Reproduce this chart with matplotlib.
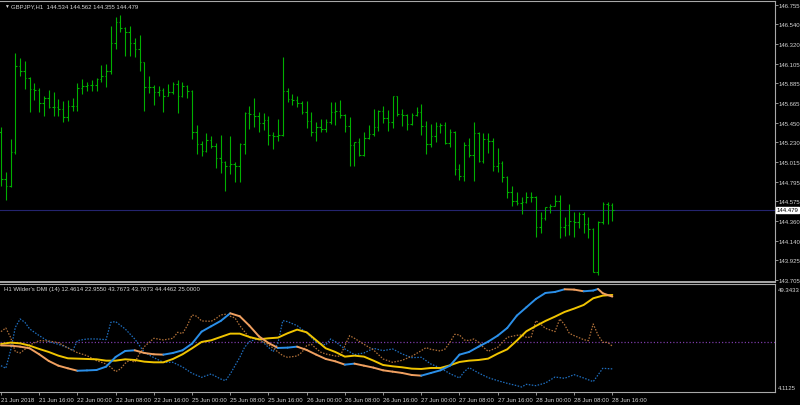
import matplotlib
matplotlib.use('Agg')
import matplotlib.pyplot as plt
from matplotlib.collections import LineCollection
import numpy as np

plt.rcParams['font.family'] = ['Liberation Sans Narrow', 'Liberation Sans', 'DejaVu Sans']
FS = 4.3

# GBPJPY H1 bars, 21 Jun 08:00 .. 28 Jun 16:00
opens = [145.350, 144.823, 144.742, 145.120, 146.082, 146.026, 145.945, 145.823, 145.815, 145.667,
         145.727, 145.619, 145.619, 145.601, 145.508, 145.630, 145.630, 145.830, 145.852, 145.867,
         145.867, 145.934, 145.971, 146.026, 146.330, 146.570, 146.496, 146.452, 146.330, 146.267,
         146.119, 145.841, 145.841, 145.786, 145.815, 145.749, 145.786, 145.878, 145.749, 145.852,
         145.804, 145.349, 145.212, 145.138, 145.260, 145.194, 145.053, 145.009, 144.972, 144.990,
         144.972, 145.212, 145.556, 145.545, 145.527, 145.450, 145.478, 145.312, 145.304, 145.312,
         145.804, 145.711, 145.704, 145.667, 145.571, 145.463, 145.349, 145.397, 145.378, 145.452,
         145.571, 145.582, 145.534, 145.408, 145.201, 145.230, 145.093, 145.278, 145.323, 145.397,
         145.582, 145.497, 145.452, 145.741, 145.545, 145.534, 145.434, 145.534, 145.563, 145.408,
         145.212, 145.297, 145.408, 145.423, 145.223, 145.349, 144.934, 144.853, 145.201, 145.090,
         145.334, 145.020, 145.267, 145.249, 144.964, 145.001, 144.842, 144.675, 144.582, 144.557,
         144.564, 144.619, 144.619, 144.286, 144.386, 144.508, 144.527, 144.582, 144.286, 144.312,
         144.360, 144.349, 144.434, 144.323, 144.268, 143.794, 144.349, 144.545, 144.534]
highs = [145.397, 144.905, 145.268, 146.222, 146.163, 146.134, 145.952, 145.886, 145.830, 145.741,
         145.815, 145.786, 145.712, 145.686, 145.704, 145.719, 145.889, 145.934, 145.904, 145.919,
         145.941, 146.089, 146.100, 146.519, 146.618, 146.644, 146.515, 146.526, 146.385, 146.422,
         146.126, 145.963, 145.867, 145.860, 145.830, 145.878, 145.897, 145.923, 145.897, 145.870,
         145.810, 145.423, 145.249, 145.330, 145.297, 145.223, 145.312, 145.027, 145.305, 145.009,
         145.223, 145.564, 145.630, 145.719, 145.564, 145.556, 145.519, 145.341, 145.489, 146.174,
         145.830, 145.767, 145.741, 145.689, 145.689, 145.571, 145.452, 145.489, 145.489, 145.674,
         145.682, 145.700, 145.541, 145.508, 145.238, 145.275, 145.349, 145.426, 145.600, 145.593,
         145.630, 145.593, 145.748, 145.745, 145.600, 145.545, 145.556, 145.619, 145.656, 145.463,
         145.434, 145.460, 145.445, 145.452, 145.378, 145.360, 144.990, 145.230, 145.275, 145.460,
         145.340, 145.334, 145.334, 145.274, 145.164, 145.027, 144.853, 144.742, 144.682, 144.619,
         144.675, 144.675, 144.631, 144.453, 144.508, 144.545, 144.645, 144.645, 144.397, 144.545,
         144.460, 144.460, 144.453, 144.397, 144.275, 144.360, 144.571, 144.571, 144.562]
lows = [144.749, 144.590, 144.735, 145.101, 145.971, 145.823, 145.564, 145.704, 145.564, 145.527,
        145.616, 145.527, 145.527, 145.453, 145.467, 145.582, 145.582, 145.767, 145.804, 145.804,
        145.804, 145.897, 145.849, 145.989, 146.267, 146.452, 146.193, 146.193, 146.174, 146.026,
        145.582, 145.778, 145.645, 145.749, 145.571, 145.741, 145.767, 145.556, 145.730, 145.719,
        145.268, 145.101, 145.083, 145.120, 145.164, 144.942, 144.886, 144.694, 144.879, 144.786,
        144.794, 145.101, 145.379, 145.397, 145.349, 145.371, 145.201, 145.156, 145.249, 145.304,
        145.674, 145.648, 145.619, 145.545, 145.386, 145.304, 145.241, 145.341, 145.341, 145.434,
        145.426, 145.497, 145.341, 144.971, 144.971, 145.075, 145.075, 145.270, 145.304, 145.360,
        145.445, 145.360, 145.386, 145.519, 145.408, 145.371, 145.425, 145.526, 145.312, 145.101,
        145.175, 145.238, 145.334, 145.212, 145.175, 144.867, 144.816, 144.805, 145.064, 144.805,
        145.008, 145.001, 145.112, 144.916, 144.904, 144.793, 144.608, 144.520, 144.534, 144.434,
        144.557, 144.564, 144.175, 144.223, 144.371, 144.445, 144.520, 144.164, 144.194, 144.201,
        144.175, 144.275, 144.223, 144.164, 143.787, 143.757, 144.323, 144.323, 144.355]
closes = [144.823, 144.742, 145.120, 146.082, 146.026, 145.945, 145.823, 145.815, 145.667, 145.727,
          145.619, 145.619, 145.601, 145.508, 145.630, 145.630, 145.830, 145.852, 145.867, 145.867,
          145.934, 145.971, 146.026, 146.330, 146.570, 146.496, 146.452, 146.330, 146.267, 146.119,
          145.841, 145.841, 145.786, 145.815, 145.749, 145.786, 145.878, 145.749, 145.852, 145.804,
          145.349, 145.212, 145.138, 145.260, 145.194, 145.053, 145.009, 144.972, 144.990, 144.972,
          145.212, 145.556, 145.545, 145.527, 145.450, 145.478, 145.312, 145.304, 145.312, 145.804,
          145.711, 145.704, 145.667, 145.571, 145.463, 145.349, 145.397, 145.378, 145.452, 145.571,
          145.582, 145.534, 145.408, 145.201, 145.230, 145.093, 145.278, 145.323, 145.397, 145.582,
          145.497, 145.452, 145.741, 145.545, 145.534, 145.434, 145.534, 145.563, 145.408, 145.212,
          145.297, 145.408, 145.423, 145.223, 145.349, 144.934, 144.853, 145.201, 145.090, 145.334,
          145.020, 145.267, 145.249, 144.964, 145.001, 144.842, 144.675, 144.582, 144.557, 144.564,
          144.619, 144.619, 144.286, 144.386, 144.508, 144.527, 144.582, 144.286, 144.312, 144.360,
          144.349, 144.434, 144.323, 144.268, 143.794, 144.349, 144.545, 144.534, 144.479]
last_price = 144.479

price_ticks = [146.755, 146.540, 146.320, 146.105, 145.885, 145.665, 145.450, 145.230,
               145.015, 144.795, 144.575, 144.360, 144.140, 143.925, 143.705]

time_idx = [0, 8, 16, 24, 32, 40, 48, 56, 64, 72, 80, 88, 96, 104, 112, 120, 128]
time_labels = ['21 Jun 2018', '21 Jun 16:00', '22 Jun 00:00', '22 Jun 08:00', '22 Jun 16:00',
               '25 Jun 00:00', '25 Jun 08:00', '25 Jun 16:00', '26 Jun 00:00', '26 Jun 08:00',
               '26 Jun 16:00', '27 Jun 00:00', '27 Jun 08:00', '27 Jun 16:00', '28 Jun 00:00',
               '28 Jun 08:00', '28 Jun 16:00']

# Wilder's DMI (14)
adx_idx = list(range(0, 125, 2)) + [125, 126, 128]
adx = [23.30, 23.18, 22.72, 21.95, 19.19, 16.11, 13.95, 12.72, 11.60, 11.75,
       11.95, 13.49, 17.95, 20.72, 21.03, 19.80, 19.19, 19.03, 19.80, 21.03,
       24.11, 29.64, 32.11, 34.57, 38.11, 36.72, 32.41, 27.49, 24.42, 22.11,
       22.26, 22.72, 21.18, 19.03, 17.03, 15.95, 14.42, 14.88, 13.95, 13.03,
       11.80, 11.19, 10.57, 9.65, 9.34, 10.57, 11.80, 13.95, 19.03, 20.26,
       22.72, 25.03, 27.80, 31.34, 37.03, 40.87, 44.72, 47.49, 47.95, 49.18,
       49.03, 48.26, 48.60, 49.34, 47.34, 45.80]

adxr_idx = list(range(0, 129, 2))
adxr = [23.95, 24.57, 24.26, 23.18, 21.65, 20.26, 18.57, 17.34, 17.19, 17.03,
        16.88, 16.26, 16.26, 16.88, 16.57, 15.80, 15.49, 15.49, 17.03, 19.19,
        21.95, 24.88, 25.65, 27.18, 28.72, 28.72, 27.18, 26.11, 26.57, 26.88,
        28.88, 30.57, 29.34, 25.65, 21.95, 20.26, 18.11, 18.57, 18.11, 16.26,
        14.26, 13.65, 13.19, 12.57, 12.42, 12.88, 12.88, 14.11, 15.65, 16.26,
        16.57, 17.19, 19.49, 21.49, 25.50, 29.80, 32.26, 34.57, 36.57, 38.72,
        40.26, 41.95, 45.03, 46.26, 46.57]

pdi_idx = [0, 1, 2, 3, 4, 5, 6, 8, 10, 12, 14, 15, 16, 18, 20, 22, 23, 24, 26, 28,
           30, 32, 34, 36, 38, 40, 42, 44, 46, 47, 48, 50, 51, 52, 54, 56, 57, 58, 59, 60,
           62, 64, 66, 68, 69, 70, 72, 74, 76, 78, 80, 82, 84, 86, 88, 90, 92, 94, 96, 97,
           98, 100, 102, 104, 106, 108, 109, 110, 112, 114, 116, 118, 120, 122, 124, 126, 128]
pdi = [13.95, 12.72, 20.88, 31.64, 35.49, 33.95, 30.88, 27.80, 25.03, 23.80, 22.26, 20.88,
       25.49, 26.26, 26.26, 25.95, 33.95, 34.26, 30.88, 26.26, 20.11, 17.65, 15.49, 15.49,
       13.34, 10.42, 8.57, 10.11, 7.80, 7.03, 10.11, 17.80, 22.41, 25.03, 26.57, 22.41,
       20.42, 24.42, 34.72, 34.26, 32.41, 29.03, 24.72, 23.49, 26.26, 25.03, 21.65, 19.03,
       19.80, 21.95, 20.88, 21.65, 19.34, 17.65, 17.80, 14.72, 12.88, 10.26, 8.26, 11.19,
       13.03, 10.57, 8.42, 7.03, 5.80, 4.73, 4.11, 5.34, 4.73, 5.95, 8.72, 8.11, 9.80,
       8.26, 6.57, 12.72, 12.46]

mdi_idx = [0, 1, 2, 3, 4, 5, 6, 8, 10, 12, 14, 16, 18, 20, 22, 23, 24, 25, 26, 27,
           28, 29, 30, 32, 34, 36, 37, 38, 39, 40, 41, 42, 44, 45, 46, 47, 48, 49, 50, 52,
           54, 56, 58, 59, 60, 62, 63, 64, 65, 66, 67, 68, 70, 71, 72, 73, 74, 76, 78, 80,
           82, 84, 86, 88, 89, 90, 92, 93, 94, 95, 96, 97, 98, 99, 100, 101, 102, 104, 105, 106,
           108, 109, 110, 111, 112, 113, 114, 116, 117, 118, 119, 120, 122, 123, 124, 125, 126, 127, 128]
mdi = [29.65, 31.34, 27.03, 20.42, 19.80, 21.49, 23.49, 25.49, 25.34, 24.57, 22.11, 19.95,
       18.57, 16.26, 14.72, 13.19, 11.19, 12.42, 15.03, 16.57, 15.49, 19.34, 22.72, 26.57,
       25.80, 26.57, 29.34, 28.72, 32.41, 37.34, 36.72, 34.57, 34.41, 35.64, 37.34, 37.64,
       36.72, 35.95, 32.41, 26.88, 25.95, 23.65, 20.26, 18.57, 17.80, 18.42, 20.11, 23.18,
       23.80, 21.80, 20.11, 19.34, 18.42, 18.26, 23.18, 27.80, 26.57, 23.80, 21.18, 17.03,
       15.49, 16.42, 18.26, 20.88, 22.26, 21.49, 20.72, 21.65, 24.72, 28.41, 28.11, 25.80,
       25.49, 26.26, 24.72, 22.41, 20.57, 22.41, 24.72, 27.03, 27.95, 28.11, 27.03, 27.03,
       34.72, 33.03, 31.18, 29.65, 35.49, 32.87, 28.88, 27.80, 25.95, 25.49, 33.18, 28.11,
       24.72, 24.72, 22.96]

level = 25.0
dmi_max, dmi_min = 49.3433, 4.1125

BG = 'black'
FRAME = '#a8a8a8'
TXT = '#d4d4d4'
BAR = '#00b000'

W, H = 800, 406
fig = plt.figure(figsize=(W / 100, H / 100), dpi=100, facecolor=BG)
ax = fig.add_axes([0, 1 - 283.3 / H, 774.7 / W, (283.3 - 1.5) / H], facecolor=BG)
ax2 = fig.add_axes([0, 1 - 393.3 / H, 774.7 / W, (393.3 - 284.6) / H], facecolor=BG)

xlim = (-0.21, 162.0)

# price bars
x = np.arange(len(closes))
ax.vlines(x, lows, highs, color=BAR, lw=0.8)
ax.hlines(opens, x - 0.32, x, color=BAR, lw=0.8)
ax.hlines(closes, x, x + 0.32, color=BAR, lw=0.8)
ax.axhline(last_price, color='#24246e', lw=0.8, zorder=0)

ax.set_xlim(*xlim)
ax.set_ylim(143.676, 146.805)
ax.set_xticks([])
ax.yaxis.tick_right()
ax.set_yticks(price_ticks)
ax.set_yticklabels([f'{p:.3f}' for p in price_ticks])
ax.tick_params(axis='y', colors=FRAME, labelcolor=TXT, length=2.0, width=0.6,
               pad=0.8, labelsize=FS)
ax.text(1.002, last_price, f'{last_price:.3f}', transform=ax.get_yaxis_transform(),
        ha='left', va='center', fontsize=FS, color='black', clip_on=False,
        bbox=dict(boxstyle='square,pad=0.12', fc='white', ec='white'))

# DMI window
ax2.axhline(level, color='#7a3aa6', lw=0.9, ls=(0, (1, 1.6)))
ax2.plot(pdi_idx, pdi, color='#1f6fc0', lw=0.9, ls=(0, (1.2, 1.2)))
ax2.plot(mdi_idx, mdi, color='#b07038', lw=0.9, ls=(0, (1.2, 1.2)))
ax2.plot(adxr_idx, adxr, color='#f0c400', lw=1.4, solid_capstyle='round')

pts = np.column_stack([adx_idx, adx])
segs = np.stack([pts[:-1], pts[1:]], axis=1)
seg_cols = ['#2b8fe8' if b >= a else '#f0a060' for a, b in zip(adx[:-1], adx[1:])]
ax2.add_collection(LineCollection(segs, colors=seg_cols, lw=1.4, capstyle='round'))

ax2.set_xlim(*xlim)
ax2.set_ylim(1.66, 51.8)
ax2.yaxis.tick_right()
ax2.set_yticks([dmi_min, dmi_max])
ax2.set_yticklabels([f'{dmi_min:.4f}', f'{dmi_max:.4f}'])
ax2.tick_params(axis='y', length=0, pad=2.0, labelsize=FS, labelcolor=TXT)
ax2.set_xticks(time_idx)
ax2.set_xticklabels(time_labels)
for lab in ax2.get_xticklabels():
    lab.set_horizontalalignment('left')
ax2.tick_params(axis='x', colors=FRAME, labelcolor=TXT, length=2.5, width=0.6,
                pad=1.0, labelsize=FS)

for a in (ax, ax2):
    a.spines['left'].set_visible(False)
    for s in ('top', 'right', 'bottom'):
        a.spines[s].set_color(FRAME)
        a.spines[s].set_linewidth(0.8)
ax.spines['bottom'].set_linewidth(1.4)

fig.text(4 / W, 1 - 6.5 / H, '\u25bc', fontsize=3.5, color=TXT, va='center', ha='left')
fig.text(11 / W, 1 - 6.5 / H, 'GBPJPY,H1  144.534 144.562 144.355 144.479',
         fontsize=FS, color=TXT, va='center', ha='left')
fig.text(4 / W, 1 - 289.8 / H,
         "H1 Wilder's DMI (14) 12.4614 22.9550 43.7673 43.7673 44.4462 25.0000",
         fontsize=FS, color=TXT, va='center', ha='left')

fig.savefig('out.png', dpi=100, facecolor=BG)
